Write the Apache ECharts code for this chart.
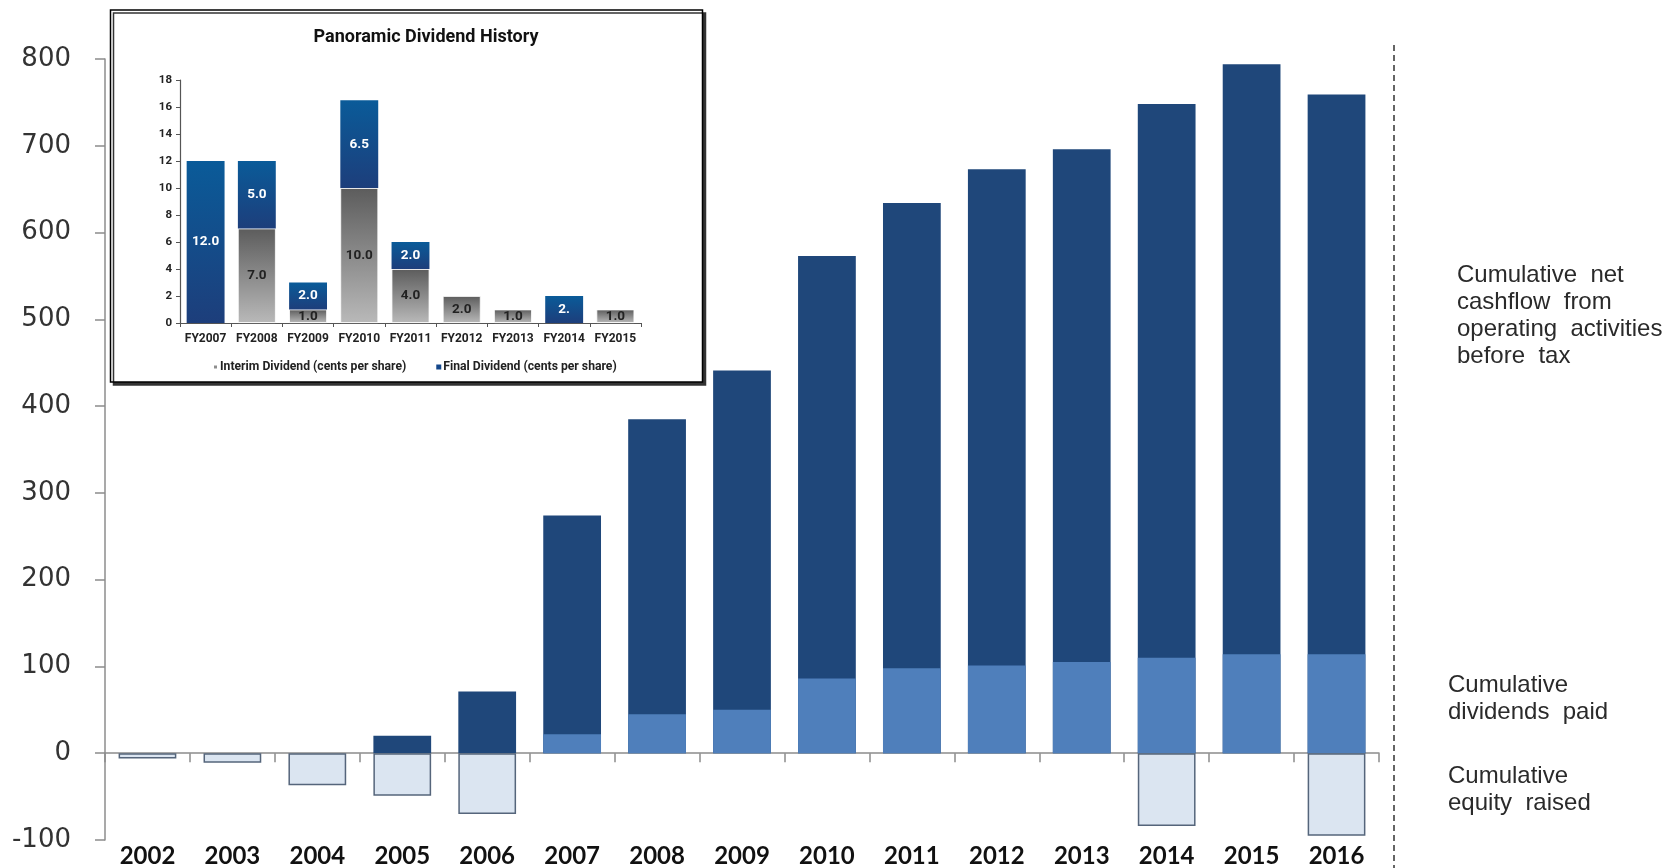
<!DOCTYPE html>
<html>
<head>
<meta charset="utf-8">
<script src="https://cdn.jsdelivr.net/npm/echarts@6/dist/echarts.min.js"></script>
<style>
html,body{margin:0;padding:0;background:#fff;}
#chart{width:1673px;height:868px;}
</style>
</head>
<body>
<div id="chart"></div>
<script>
// ---- Main chart data ----
const years = ['2002','2003','2004','2005','2006','2007','2008','2009','2010','2011','2012','2013','2014','2015','2016'];
const cashflow = [null, null, null, 20, 71, 274, 385, 441, 573, 634, 673, 696, 748, 794, 759];
const dividends = [null, null, null, null, null, 22, 45, 50, 86, 98, 101, 105, 110, 114, 114];
const equity = [-6, -11, -37, -49, -70, null, null, null, null, null, null, null, -84, null, -95];
const yMin = -100, yMax = 800, yStep = 100;

// ---- Inset chart data ----
const fyCats = ['FY2007','FY2008','FY2009','FY2010','FY2011','FY2012','FY2013','FY2014','FY2015'];
const interim = [null, 7, 1, 10, 4, 2, 1, null, 1];
const finalDiv = [12, 5, 2, 6.5, 2, null, null, 2, null];
const interimLabels = ['', '7.0', '1.0', '10.0', '4.0', '2.0', '1.0', '', '1.0'];
const finalLabels = ['12.0', '5.0', '2.0', '6.5', '2.0', '', '', '2.', ''];
const insetMin = 0, insetMax = 18, insetStep = 2;

const NARROW = "Roboto, 'Liberation Sans', sans-serif";

const chart = echarts.init(document.getElementById('chart'), null, {renderer: 'canvas'});

const grey = new echarts.graphic.LinearGradient(0, 0, 0, 1, [
  {offset: 0, color: '#5c5c5c'}, {offset: 1, color: '#b9b9b9'}]);
const blue = new echarts.graphic.LinearGradient(0, 0, 0, 1, [
  {offset: 0, color: '#0a5b99'}, {offset: 1, color: '#1d3e7b'}]);

const option = {
  backgroundColor: '#fff',
  animation: false,
  grid: [
    {left: 105, right: 294, top: 59, bottom: 27},
    {left: 180, right: 1032, top: 80, bottom: 545}
  ],
  xAxis: [
    {
      type: 'category', gridIndex: 0, data: years, position: 'bottom',
      axisLine: {onZero: true, lineStyle: {color: '#8c8c8c', width: 1.5}},
      axisTick: {show: true, length: 9, lineStyle: {color: '#8c8c8c', width: 1.5}},
      axisLabel: {show: false}
    },
    {
      type: 'category', gridIndex: 0, data: years, position: 'bottom',
      axisLine: {show: false, onZero: false}, axisTick: {show: false},
      axisLabel: {show: true, margin: 4, fontFamily: 'Lato, sans-serif', fontWeight: 'bold', fontSize: 24, color: '#111'}
    },
    {
      type: 'category', gridIndex: 1, data: fyCats,
      axisLine: {lineStyle: {color: '#555', width: 1.2}},
      axisTick: {show: true, length: 4, lineStyle: {color: '#555'}},
      axisLabel: {interval: 0, margin: 10, fontFamily: NARROW, fontWeight: 'bold', fontSize: 12, color: '#222'}
    }
  ],
  yAxis: [
    {
      type: 'value', gridIndex: 0, min: yMin, max: yMax, interval: yStep,
      axisLine: {show: true, lineStyle: {color: '#8c8c8c', width: 1.5}},
      axisTick: {show: true, length: 10, lineStyle: {color: '#8c8c8c', width: 1.5}},
      splitLine: {show: false},
      axisLabel: {margin: 34, fontFamily: "'DejaVu Sans', sans-serif", fontSize: 26, color: '#333'}
    },
    {
      type: 'value', gridIndex: 1, min: insetMin, max: insetMax, interval: insetStep,
      axisLine: {show: true, lineStyle: {color: '#555', width: 1.2}},
      axisTick: {show: true, length: 4, lineStyle: {color: '#555'}},
      splitLine: {show: false},
      axisLabel: {margin: 8, fontFamily: NARROW, fontWeight: 'bold', fontSize: 11.5, color: '#222'}
    }
  ],
  legend: {
    data: [
      {name: 'Interim Dividend (cents per share)', itemStyle: {color: '#8e8e8e'}},
      {name: 'Final Dividend (cents per share)', itemStyle: {color: '#14478a'}}
    ],
    left: 207, top: 356, icon: 'rect', itemWidth: 5, itemHeight: 5, itemGap: 30,
    textStyle: {fontFamily: NARROW, fontWeight: 'bold', fontSize: 12.2, color: '#222', padding: [0, 0, 0, -3]}
  },
  series: [
    {
      name: 'Cumulative net cashflow', type: 'bar', xAxisIndex: 0, yAxisIndex: 0,
      data: cashflow, barCategoryGap: '32%', barGap: '-100%',
      itemStyle: {color: '#1f477a'}
    },
    {
      name: 'Cumulative dividends paid', type: 'bar', xAxisIndex: 0, yAxisIndex: 0,
      data: dividends, barGap: '-100%',
      itemStyle: {color: '#4f7fbb'}
    },
    {
      name: 'Cumulative equity raised', type: 'bar', xAxisIndex: 0, yAxisIndex: 0,
      data: equity, barGap: '-100%',
      itemStyle: {color: '#dbe5f1', borderColor: '#55657b', borderWidth: 1.5}
    },
    {
      name: 'Interim Dividend (cents per share)', type: 'bar', xAxisIndex: 2, yAxisIndex: 1,
      stack: 'div', data: interim, barCategoryGap: '26%', z: 5,
      itemStyle: {color: grey, borderColor: '#ffffff', borderWidth: 0.8},
      label: {show: true, position: 'inside', fontFamily: NARROW, fontWeight: 'bold', fontSize: 13.5, color: '#222',
        formatter: p => interimLabels[p.dataIndex]}
    },
    {
      name: 'Final Dividend (cents per share)', type: 'bar', xAxisIndex: 2, yAxisIndex: 1,
      stack: 'div', data: finalDiv, z: 5,
      itemStyle: {color: blue},
      label: {show: true, position: 'inside', fontFamily: NARROW, fontWeight: 'bold', fontSize: 13.5, color: '#fff',
        formatter: p => finalLabels[p.dataIndex]}
    }
  ],
  graphic: [
    {
      type: 'rect', z: -10, silent: true,
      shape: {x: 110.5, y: 10, width: 592, height: 372},
      style: {fill: '#fff', stroke: '#000', lineWidth: 1.5,
        shadowColor: '#333', shadowOffsetX: 3, shadowOffsetY: 3, shadowBlur: 0}
    },
    {
      type: 'text', z: 100, silent: true,
      style: {text: 'Panoramic Dividend History', x: 426, y: 37, align: 'center', verticalAlign: 'middle',
        font: "bold 18px " + NARROW, fill: '#111'}
    },
    {
      type: 'line', z: 100, silent: true,
      shape: {x1: 1394, y1: 45, x2: 1394, y2: 868},
      style: {stroke: '#333', lineWidth: 1.5, lineDash: [6, 4]}
    },
    {
      type: 'text', z: 100, silent: true,
      style: {text: 'Cumulative  net\ncashflow  from\noperating  activities\nbefore  tax', x: 1457, y: 261.5,
        verticalAlign: 'top', lineHeight: 27, font: "24px 'Liberation Sans', Arial, sans-serif", fill: '#2a2a2a'}
    },
    {
      type: 'text', z: 100, silent: true,
      style: {text: 'Cumulative\ndividends  paid', x: 1448, y: 671.5,
        verticalAlign: 'top', lineHeight: 27, font: "24px 'Liberation Sans', Arial, sans-serif", fill: '#2a2a2a'}
    },
    {
      type: 'text', z: 100, silent: true,
      style: {text: 'Cumulative\nequity  raised', x: 1448, y: 762.5,
        verticalAlign: 'top', lineHeight: 27, font: "24px 'Liberation Sans', Arial, sans-serif", fill: '#2a2a2a'}
    }
  ]
};
chart.setOption(option);
</script>
</body>
</html>
